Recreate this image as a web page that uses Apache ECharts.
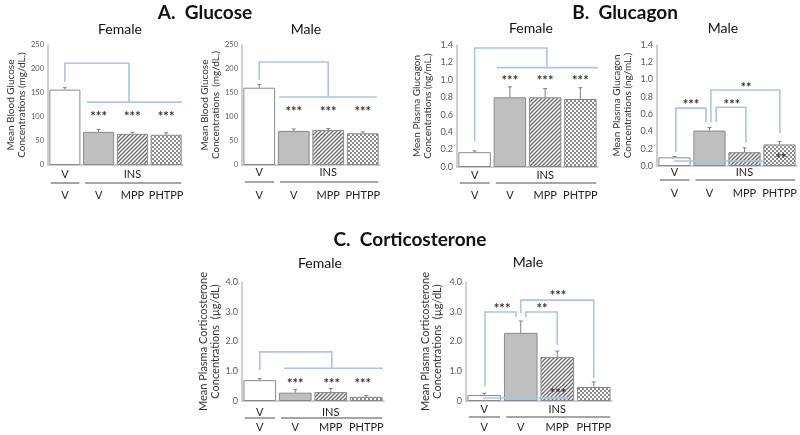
<!DOCTYPE html>
<html><head><meta charset="utf-8">
<script src="https://cdn.jsdelivr.net/npm/echarts@6/dist/echarts.min.js"></script>
<style>html,body{margin:0;padding:0;background:#fff}#c{width:800px;height:435px}</style>
</head><body><div id="c"></div><script>
// ---------- data ----------
const treatments = ['V', 'V', 'MPP', 'PHTPP'];
const groupLabels = ['V', 'INS'];
const groupCenters = [0, 2];

const glucoseFemale = [157, 69, 65, 63];
const glucoseFemaleErr = [4, 5, 3, 4];
const glucoseMale = [161, 71, 73, 66];
const glucoseMaleErr = [7, 4, 3, 3];
const glucagonFemale = [0.17, 0.80, 0.80, 0.78];
const glucagonFemaleErr = [0.015, 0.12, 0.10, 0.13];
const glucagonMale = [0.10, 0.41, 0.16, 0.25];
const glucagonMaleErr = [0.01, 0.035, 0.05, 0.035];
const cortFemale = [0.70, 0.28, 0.30, 0.14];
const cortFemaleErr = [0.05, 0.10, 0.12, 0.04];
const cortMale = [0.20, 2.29, 1.48, 0.47];
const cortMaleErr = [0.06, 0.40, 0.20, 0.17];

// significance brackets (category position, value) and star labels
const glucoseFemaleLines = [[[0, 173], [0, 212], [1.9, 212], [1.9, 131]], [[0.66, 131], [3.47, 131]]];
const glucoseFemaleStars = [[1, 108, '***'], [2, 108, '***'], [3, 108, '***']];
const glucoseMaleLines = [[[0, 177], [0, 214.6], [2, 214.6], [2, 141.7]], [[0.58, 141.7], [3.41, 141.7]]];
const glucoseMaleStars = [[1, 118.7, '***'], [2, 118.7, '***'], [3, 118.7, '***']];
const glucagonFemaleLines = [[[0, 0.29], [0, 1.366], [2.05, 1.366], [2.05, 1.14]], [[0.63, 1.14], [3.5, 1.14]]];
const glucagonFemaleStars = [[1, 1.03, '***'], [2, 1.03, '***'], [3, 1.03, '***']];
const glucagonMaleLines = [[[0.04, 0.16], [0.04, 0.67], [0.9, 0.67], [0.9, 0.51]],
  [[1.19, 0.51], [1.19, 0.68], [2.04, 0.68], [2.04, 0.27]],
  [[1.04, 0.51], [1.04, 0.88], [3.01, 0.88], [3.01, 0.38]],
  [[0, 0.058], [2.58, 0.058]]];
const glucagonMaleStars = [[0.47, 0.75, '***'], [1.64, 0.75, '***'], [2.04, 0.95, '**'], [3.04, 0.127, '**']];
const cortFemaleLines = [[[0, 1.04], [0, 1.65], [2.03, 1.65], [2.03, 1.1]], [[0.68, 1.1], [3.47, 1.1]]];
const cortFemaleStars = [[1, 0.7, '***'], [2.03, 0.7, '***'], [2.9, 0.7, '***']];
const cortMaleLines = [[[0.02, 0.5], [0.02, 2.99], [0.87, 2.99], [0.87, 2.82]],
  [[1.14, 2.82], [1.14, 2.99], [2.0, 2.99], [2.0, 1.88]],
  [[1.0, 2.96], [1.0, 3.39], [3.0, 3.39], [3.0, 0.77]],
  [[-0.03, 0.10], [2.3, 0.10]]];
const cortMaleStars = [[0.49, 3.23, '***'], [1.58, 3.23, '**'], [2.02, 3.66, '***'], [2.02, 0.37, '***']];

// ---------- styles ----------
const FONT = 'Lato, "Open Sans", sans-serif';
const BLUE = '#adc3e8';
const SEP = '#a6a6a6';
const AXIS = '#bfbfbf';

function diagPattern() {
  const c = document.createElement('canvas'); c.width = 4; c.height = 4;
  const g = c.getContext('2d');
  g.fillStyle = '#ffffff'; g.fillRect(0, 0, 4, 4);
  g.strokeStyle = '#6a6a6a'; g.lineWidth = 1.3;
  g.beginPath();
  g.moveTo(-1, 5); g.lineTo(5, -1);
  g.moveTo(-1, 1); g.lineTo(1, -1);
  g.moveTo(3, 5); g.lineTo(5, 3);
  g.stroke();
  return c;
}
function checkPattern() {
  const c = document.createElement('canvas'); c.width = 4; c.height = 4;
  const g = c.getContext('2d');
  g.fillStyle = '#8a8a8a'; g.fillRect(0, 0, 4, 4);
  g.fillStyle = '#ffffff'; g.fillRect(0, 0, 2, 2); g.fillRect(2, 2, 2, 2);
  return c;
}
const FILLS = ['#ffffff', '#bfbfbf', { image: diagPattern(), repeat: 'repeat' }, { image: checkPattern(), repeat: 'repeat' }];

const fmt0 = v => String(v);
const fmt1 = v => v.toFixed(1);
const fmtC = v => (v === 0 ? '0' : v.toFixed(1));

const panels = [
  { g: { left: 48, top: 45, width: 135, height: 120 }, max: 250, interval: 50, fmt: fmt0,
    name: 'Mean Blood Glucose\nConcentrations (mg/dL.)', nameGap: 21, nameSize: 10, tickSize: 7.5,
    vals: glucoseFemale, errs: glucoseFemaleErr, lines: glucoseFemaleLines, stars: glucoseFemaleStars,
    gOff: 9, sOff: 18, tOff: 25 },
  { g: { left: 242, top: 45, width: 138, height: 120 }, max: 250, interval: 50, fmt: fmt0,
    name: 'Mean Blood Glucose\nConcentrations  (mg/dL.)', nameGap: 14, nameSize: 10, tickSize: 7.5,
    vals: glucoseMale, errs: glucoseMaleErr, lines: glucoseMaleLines, stars: glucoseMaleStars,
    gOff: 7, sOff: 17, tOff: 25 },
  { g: { left: 457, top: 45, width: 141, height: 122 }, max: 1.4, interval: 0.2, fmt: fmt1,
    name: 'Mean Plasma Glucagon\nConcentrations (ng/mL.)', nameGap: 24, nameSize: 10, tickSize: 9,
    vals: glucagonFemale, errs: glucagonFemaleErr, lines: glucagonFemaleLines, stars: glucagonFemaleStars,
    gOff: 8, sOff: 16, tOff: 23 },
  { g: { left: 657, top: 45, width: 140, height: 121 }, max: 1.4, interval: 0.2, fmt: fmt1,
    name: 'Mean Plasma Glucagon\nConcentrations (ng/mL.)', nameGap: 24, nameSize: 10, tickSize: 9,
    vals: glucagonMale, errs: glucagonMaleErr, lines: glucagonMaleLines, stars: glucagonMaleStars,
    gOff: 6, sOff: 14, tOff: 22 },
  { g: { left: 242, top: 282, width: 142, height: 119 }, max: 4, interval: 1, fmt: fmtC,
    name: 'Mean Plasma Corticosterone\nConcentrations  (µg/dL)', nameGap: 20, nameSize: 11, tickSize: 9,
    vals: cortFemale, errs: cortFemaleErr, lines: cortFemaleLines, stars: cortFemaleStars,
    gOff: 11, sOff: 17, tOff: 21 },
  { g: { left: 466, top: 282, width: 146, height: 119 }, max: 4, interval: 1, fmt: fmtC,
    name: 'Mean Plasma Corticosterone\nConcentrations  (µg/dL)', nameGap: 23, nameSize: 11, tickSize: 9,
    vals: cortMale, errs: cortMaleErr, lines: cortMaleLines, stars: cortMaleStars,
    gOff: 8, sOff: 16, tOff: 21 }
];

const grid = [], xAxis = [], yAxis = [], series = [];
panels.forEach((p, i) => {
  grid.push(Object.assign({ outerBoundsMode: 'none', containLabel: false }, p.g));
  xAxis.push({
    type: 'category', gridIndex: i, data: treatments,
    axisLine: { lineStyle: { color: AXIS, width: 1.5 } }, axisTick: { show: false },
    axisLabel: { margin: p.tOff, fontFamily: FONT, fontSize: 11, color: '#222', interval: 0 }
  });
  yAxis.push({
    type: 'value', gridIndex: i, min: 0, max: p.max, interval: p.interval,
    splitLine: { show: false },
    axisLine: { show: true, lineStyle: { color: AXIS, width: 1.5 } }, axisTick: { show: false },
    axisLabel: { formatter: p.fmt, fontFamily: FONT, fontSize: p.tickSize, color: '#595959', margin: 4 },
    name: p.name, nameLocation: 'middle', nameGap: p.nameGap,
    nameTextStyle: { fontFamily: FONT, fontSize: p.nameSize, color: '#333', lineHeight: p.nameSize + 1 }
  });
  series.push({
    type: 'bar', xAxisIndex: i, yAxisIndex: i, barCategoryGap: '8%', silent: true,
    data: p.vals.map((v, k) => ({ value: v, itemStyle: { color: FILLS[k], borderColor: '#8a8a8a', borderWidth: 1 } }))
  });
  series.push({
    type: 'custom', xAxisIndex: i, yAxisIndex: i, silent: true, z: 5,
    data: p.vals.map((v, k) => [k, v, v + p.errs[k]]),
    encode: { x: 0, y: [1, 2] },
    renderItem: (params, api) => {
      const a = api.coord([api.value(0), api.value(1)]);
      const b = api.coord([api.value(0), api.value(2)]);
      return { type: 'group', children: [
        { type: 'line', shape: { x1: a[0], y1: a[1], x2: b[0], y2: b[1] }, style: { stroke: '#7f7f7f', lineWidth: 1 } },
        { type: 'line', shape: { x1: b[0] - 2, y1: b[1], x2: b[0] + 2, y2: b[1] }, style: { stroke: '#7f7f7f', lineWidth: 1 } }
      ] };
    }
  });
  series.push({
    type: 'custom', xAxisIndex: i, yAxisIndex: i, silent: true, z: 10,
    data: [[0, 0]],
    renderItem: (params, api) => {
      const band = api.size([1, 0])[0];
      const px = (pos, v) => { const b = Math.round(pos); const c = api.coord([b, v]); return [c[0] + (pos - b) * band, c[1]]; };
      const ch = [];
      p.lines.forEach(pl => ch.push({ type: 'polyline', shape: { points: pl.map(q => px(q[0], q[1])) },
        style: { stroke: BLUE, lineWidth: 1.6, fill: null } }));
      p.stars.forEach(s => { const q = px(s[0], s[1]);
        ch.push({ type: 'text', x: q[0], y: q[1] + 4, style: { text: s[2], align: 'center', verticalAlign: 'middle',
          fontFamily: FONT, fontSize: 13, fontWeight: 'bold', fill: '#333' } }); });
      const y0 = api.coord([0, 0])[1];
      groupLabels.forEach((t, k) => { const q = px(groupCenters[k], 0);
        ch.push({ type: 'text', x: q[0], y: y0 + p.gOff, style: { text: t, align: 'center', verticalAlign: 'middle',
          fontFamily: FONT, fontSize: 11, fill: '#222' } }); });
      [[-0.42, 0.43], [0.6, 3.45]].forEach(r => {
        const a = px(r[0], 0), b = px(r[1], 0);
        ch.push({ type: 'line', shape: { x1: a[0], y1: y0 + p.sOff, x2: b[0], y2: y0 + p.sOff }, style: { stroke: SEP, lineWidth: 2 } });
      });
      return { type: 'group', children: ch };
    }
  });
});

const titleStyle = (t, size, bold) => ({ text: t, align: 'center', verticalAlign: 'middle', fontFamily: FONT, fontSize: size, fontWeight: bold ? 'bold' : 'normal', fill: '#111' });
const graphic = [
  { type: 'text', x: 205, y: 13, style: titleStyle('A.  Glucose', 19, true) },
  { type: 'text', x: 625, y: 13, style: titleStyle('B.  Glucagon', 19, true) },
  { type: 'text', x: 410, y: 240, style: titleStyle('C.  Corticosterone', 19, true) },
  { type: 'text', x: 120, y: 29, style: titleStyle('Female', 14) },
  { type: 'text', x: 306, y: 29, style: titleStyle('Male', 14) },
  { type: 'text', x: 531, y: 28, style: titleStyle('Female', 14) },
  { type: 'text', x: 723, y: 28, style: titleStyle('Male', 14) },
  { type: 'text', x: 320, y: 263, style: titleStyle('Female', 14) },
  { type: 'text', x: 528, y: 262, style: titleStyle('Male', 14) }
];

const chart = echarts.init(document.getElementById('c'), null, { renderer: 'canvas' });
chart.setOption({ animation: false, backgroundColor: '#ffffff', grid, xAxis, yAxis, series, graphic });
</script></body></html>
